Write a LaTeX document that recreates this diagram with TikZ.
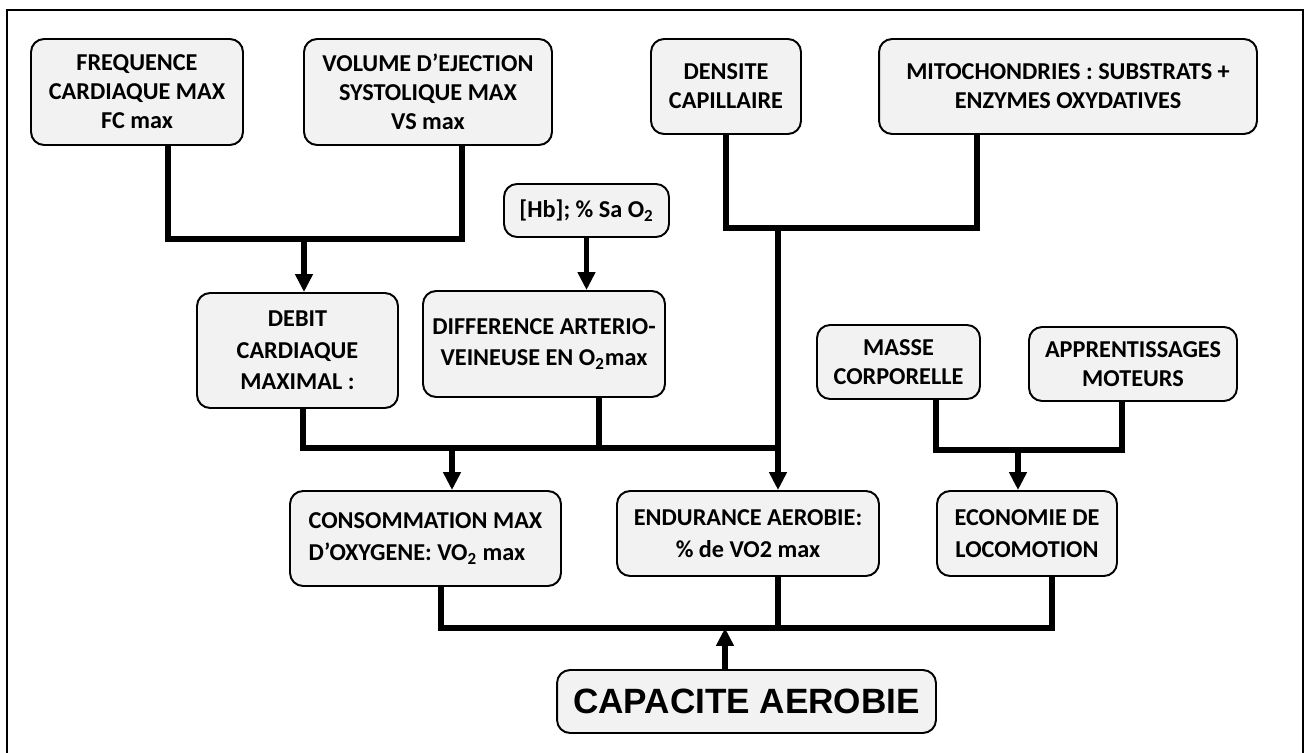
\documentclass[tikz,border=0pt]{standalone}
\usepackage{fontspec}
\setmainfont{Carlito}
\newfontfamily\arialfont{Liberation Sans}
\usetikzlibrary{arrows.meta}
\definecolor{boxgray}{HTML}{F2F2F2}

\begin{document}
\begin{tikzpicture}[
x=0.02cm, y=-0.02cm,
>={Triangle[length=0.36cm,width=0.34cm]},
box/.style={
draw,
line width=1.1pt,
rounded corners=0.26cm,
fill=boxgray,
inner sep=0pt,
align=center,
font=\fontsize{13.8}{16.5}\selectfont\bfseries},
lowbox/.style={box,font=\fontsize{13.8}{18}\selectfont\bfseries},
wire/.style={line width=3pt},
arr/.style={wire,->},
frame/.style={line width=1.2pt}
]

\useasboundingbox (0,0) rectangle (1306,753);
\draw[frame] (7,753) -- (7,10) -- (1303,10) -- (1303,753);

\node[box,minimum width=4.24cm,minimum height=2.12cm] (freq) at (137,92) {FREQUENCE\\CARDIAQUE MAX\\FC max};
\node[box,minimum width=4.96cm,minimum height=2.12cm] (vol) at (428,92) {VOLUME D’EJECTION\\SYSTOLIQUE MAX\\VS max};
\node[box,minimum width=3.00cm,minimum height=1.90cm] (dens) at (726,86.5) {DENSITE\\CAPILLAIRE};
\node[box,minimum width=7.56cm,minimum height=1.90cm] (mito) at (1068,86.5) {MITOCHONDRIES : SUBSTRATS +\\ENZYMES OXYDATIVES};
\node[box,minimum width=3.30cm,minimum height=1.06cm] (hb) at (586.5,210.5) {[Hb]; \% Sa O\textsubscript{2}};
\node[lowbox,minimum width=4.02cm,minimum height=2.30cm] (debit) at (297.5,350.5) {DEBIT\\CARDIAQUE\\MAXIMAL :};
\node[lowbox,minimum width=4.84cm,minimum height=2.12cm] (diff) at (544,344) {DIFFERENCE ARTERIO-\\VEINEUSE EN O\textsubscript{2}max};
\node[box,minimum width=3.26cm,minimum height=1.48cm] (masse) at (898.5,362) {MASSE\\CORPORELLE};
\node[box,minimum width=4.16cm,minimum height=1.48cm] (appr) at (1133,364) {APPRENTISSAGES\\MOTEURS};
\node[lowbox,align=left,minimum width=5.42cm,minimum height=1.90cm] (conso) at (425.5,538.5) {CONSOMMATION MAX\\D’OXYGENE: VO\textsubscript{2} max};
\node[lowbox,minimum width=5.24cm,minimum height=1.70cm] (endur) at (748,533.5) {ENDURANCE AEROBIE:\\\% de VO2 max};
\node[lowbox,minimum width=3.60cm,minimum height=1.70cm] (eco) at (1027,533.5) {ECONOMIE DE\\LOCOMOTION};
\node[box,font=\fontsize{20}{24}\selectfont\arialfont\bfseries,minimum width=7.58cm,minimum height=1.26cm] (capa) at (746.5,701.5) {CAPACITE AEROBIE};

\coordinate (jfv) at (304,239);
\coordinate (jdm) at (778,228);
\coordinate (jmid) at (778,448);
\coordinate (jcon) at (452,448);
\coordinate (jma) at (1018,450);
\coordinate (jbot) at (725,628);
\coordinate (dd) at ([xshift=1.1cm]diff.south);
\coordinate (ee) at ([xshift=0.6cm]endur.south);

\draw[wire] ([xshift=0.62cm]freq.south) |- (jfv) -| ([xshift=0.68cm]vol.south);
\draw[arr] (jfv) -- (debit.north -| jfv);
\draw[arr] (hb.south) -- (hb.south |- diff.north);
\draw[wire] (dens.south) |- (jdm) -| ([xshift=-1.82cm]mito.south);
\draw[arr] (jdm) -- (endur.north -| jdm);
\draw[wire] ([xshift=0.11cm]debit.south) |- (jmid);
\draw[wire] (dd) -- (dd |- jmid);
\draw[arr] (jcon) -- (conso.north -| jcon);
\draw[wire] ([xshift=0.75cm]masse.south) |- (jma) -| ([xshift=-0.22cm]appr.south);
\draw[arr] (jma) -- (eco.north -| jma);
\draw[wire] ([xshift=0.31cm]conso.south) |- (jbot) -| ([xshift=0.5cm]eco.south);
\draw[wire] (ee) -- (ee |- jbot);
\draw[arr] (capa.north -| jbot) -- (jbot);

\end{tikzpicture}
\end{document}
